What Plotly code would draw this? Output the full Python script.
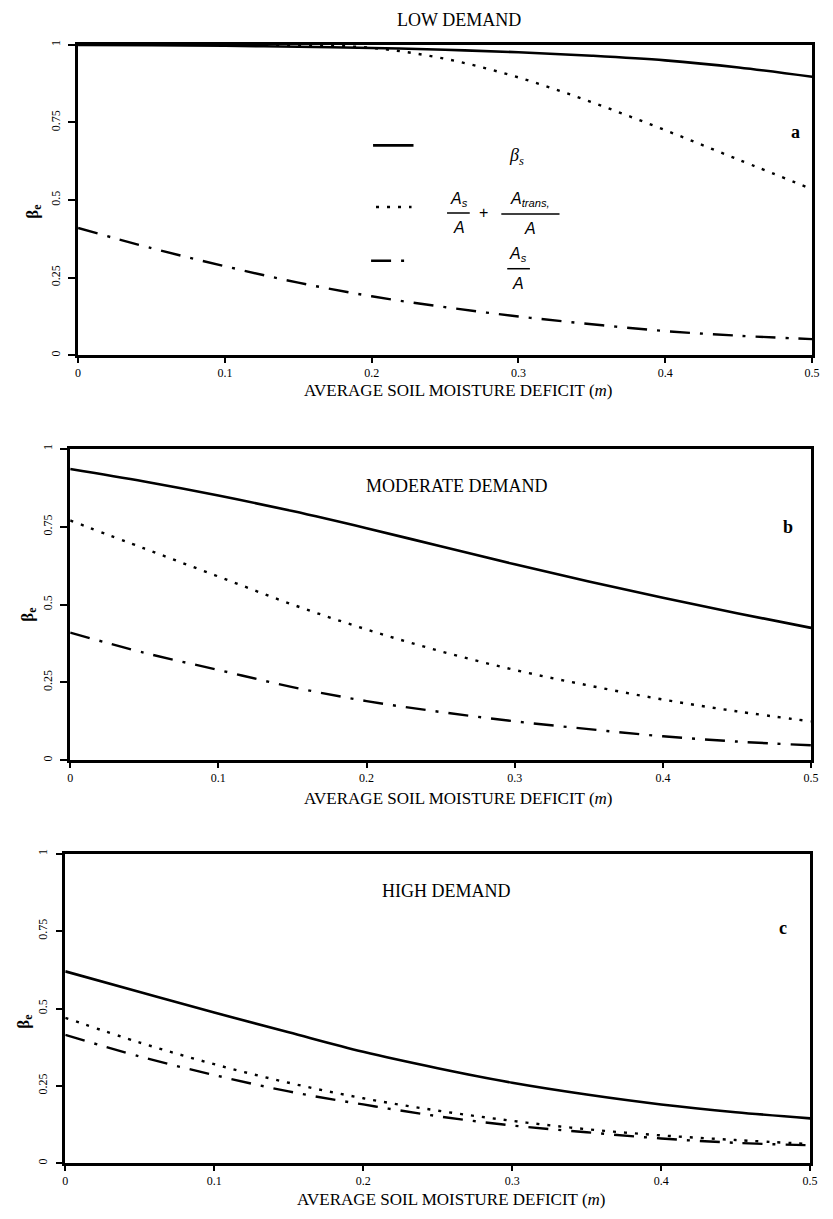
import plotly.graph_objects as go

# ---------------- data ----------------
deficit = [0.0, 0.05, 0.1, 0.15, 0.2, 0.25, 0.3, 0.35, 0.4, 0.45, 0.5]

low_beta_s = [1.0, 0.999, 0.997, 0.994, 0.99, 0.984, 0.976, 0.965, 0.95, 0.927, 0.897]
low_total = [1.0, 1.0, 1.0, 0.999, 0.99, 0.955, 0.895, 0.815, 0.725, 0.63, 0.535]
low_as = [0.41, 0.345, 0.287, 0.234, 0.19, 0.155, 0.125, 0.1, 0.078, 0.063, 0.052]

mod_beta_s = [0.935, 0.895, 0.85, 0.80, 0.745, 0.687, 0.629, 0.574, 0.522, 0.472, 0.425]
mod_total = [0.77, 0.68, 0.59, 0.50, 0.42, 0.35, 0.29, 0.24, 0.195, 0.157, 0.125]
mod_as = [0.41, 0.345, 0.29, 0.235, 0.19, 0.155, 0.125, 0.1, 0.077, 0.06, 0.048]

high_beta_s = [0.62, 0.553, 0.487, 0.423, 0.36, 0.307, 0.26, 0.222, 0.19, 0.165, 0.145]
high_total = [0.47, 0.39, 0.32, 0.26, 0.21, 0.17, 0.137, 0.11, 0.09, 0.075, 0.062]
high_as = [0.415, 0.345, 0.285, 0.232, 0.19, 0.152, 0.122, 0.1, 0.08, 0.066, 0.058]

x_ticks = [0, 0.1, 0.2, 0.3, 0.4, 0.5]
x_tick_labels = ["0", "0.1", "0.2", "0.3", "0.4", "0.5"]
y_ticks = [0, 0.25, 0.5, 0.75, 1]
y_tick_labels = ["0", "0.25", "0.5", "0.75", "1"]

panel_titles = ["LOW DEMAND", "MODERATE DEMAND", "HIGH DEMAND"]
panel_letters = ["a", "b", "c"]
x_title = "AVERAGE SOIL MOISTURE DEFICIT (<i>m</i>)"
y_title = "β<sub>e</sub>"

# ---------------- layout helpers ----------------
PAGE_W, PAGE_H = 833, 1219
OFF = 8  # default body margin of the html page
W, H = PAGE_W - 2 * OFF, PAGE_H - 2 * OFF


def px(x):
    return (x - OFF) / W


def py(y):
    return 1 - (y - OFF) / H


SERIF = "Liberation Serif"
SANS = "Liberation Sans"

panels = [
    dict(beta=low_beta_s, total=low_total, a_s=low_as,
         xdom=[px(76), px(820)], ydom=[py(352), py(40)]),
    dict(beta=mod_beta_s, total=mod_total, a_s=mod_as,
         xdom=[px(68), px(819)], ydom=[py(759), py(446)]),
    dict(beta=high_beta_s, total=high_total, a_s=high_as,
         xdom=[px(63), px(818)], ydom=[py(1164), py(853)]),
]

styles = [
    dict(dash="solid", width=2.6),
    dict(dash="3px,8px", width=2.4),
    dict(dash="20px,10px,3px,10px", width=2.4),
]

fig = go.Figure()
layout = {}
for i, p in enumerate(panels):
    sfx = "" if i == 0 else str(i + 1)
    for key, st in zip(["beta", "total", "a_s"], styles):
        fig.add_trace(go.Scatter(
            x=deficit, y=p[key], mode="lines",
            line=dict(color="black", width=st["width"], dash=st["dash"], shape="spline"),
            xaxis="x" + sfx, yaxis="y" + sfx, showlegend=False, hoverinfo="skip",
        ))
    axis_common = dict(showline=True, linecolor="black", linewidth=2.5, mirror=True,
                       showgrid=False, zeroline=False, ticks="outside",
                       tickcolor="black", tickwidth=2, ticklen=6,
                       tickfont=dict(family=SERIF, size=12, color="black"))
    layout["xaxis" + sfx] = dict(axis_common, domain=p["xdom"], range=[0, 0.5],
                                 tickvals=x_ticks, ticktext=x_tick_labels,
                                 ticklen=5, ticklabeloverflow="allow",
                                 anchor="y" + sfx)
    layout["yaxis" + sfx] = dict(axis_common, domain=p["ydom"], range=[0, 1],
                                 tickvals=y_ticks, ticktext=y_tick_labels,
                                 tickangle=-90, ticklen=7, ticklabelstandoff=4,
                                 anchor="x" + sfx)

fig.update_layout(**layout)

ann = []
# panel titles
title_pos = [(462, 15), (460, 483), (449, 890)]
for t, (x, y) in zip(panel_titles, title_pos):
    ann.append(dict(text=t, x=px(x), y=py(y), font=dict(family=SERIF, size=18, color="black")))
# panel letters
letter_pos = [(803, 128), (796, 525), (791, 928)]
for t, (x, y) in zip(panel_letters, letter_pos):
    ann.append(dict(text="<b>%s</b>" % t, x=px(x), y=py(y), font=dict(family=SERIF, size=18, color="black")))
# x titles
xt_pos = [(462, 387), (462, 797), (455, 1200)]
for (x, y) in xt_pos:
    ann.append(dict(text=x_title, x=px(x), y=py(y), font=dict(family=SERIF, size=17, color="black")))
# y titles
yt_pos = [(31, 208), (26, 613), (22, 1022)]
for (x, y) in yt_pos:
    ann.append(dict(text="<b>%s</b>" % y_title, x=px(x), y=py(y), textangle=-90,
                    font=dict(family=SERIF, size=17, color="black")))

# legend text in panel a
FR = dict(family=SANS, size=16, color="black")
ann.append(dict(text="<i>β<sub>s</sub></i>", x=px(520), y=py(152), font=dict(family=SERIF, size=18, color="black")))
ann.append(dict(text="<i>A<sub>s</sub></i>", x=px(462), y=py(195), font=FR))
ann.append(dict(text="<i>A</i>", x=px(462), y=py(224), font=FR))
ann.append(dict(text="+", x=px(487), y=py(209), font=dict(family=SANS, size=16, color="black")))
ann.append(dict(text="<i>A<sub>trans,</sub></i>", x=px(534), y=py(195), font=FR))
ann.append(dict(text="<i>A</i>", x=px(534), y=py(225), font=FR))
ann.append(dict(text="<i>A<sub>s</sub></i>", x=px(522), y=py(251), font=FR))
ann.append(dict(text="<i>A</i>", x=px(522), y=py(280), font=FR))

for a in ann:
    a.update(xref="paper", yref="paper", showarrow=False, xanchor="center", yanchor="middle")

shapes = []
# legend line samples
shapes.append(dict(type="line", x0=px(375), x1=px(416), y0=py(141), y1=py(141),
                   line=dict(color="black", width=2.6)))
shapes.append(dict(type="line", x0=px(378), x1=px(414), y0=py(203), y1=py(203),
                   line=dict(color="black", width=2.4, dash="3px,8px")))
shapes.append(dict(type="line", x0=px(373), x1=px(407), y0=py(257), y1=py(257),
                   line=dict(color="black", width=2.4, dash="20px,10px,3px,10px")))
# fraction bars
for (x0, x1, y) in [(450, 473, 209), (505, 564, 210), (511, 534, 265)]:
    shapes.append(dict(type="line", x0=px(x0), x1=px(x1), y0=py(y), y1=py(y),
                       line=dict(color="black", width=1.5)))
for s in shapes:
    s.update(xref="paper", yref="paper")

fig.update_layout(
    width=W, height=H,
    margin=dict(l=0, r=0, t=0, b=0),
    paper_bgcolor="white", plot_bgcolor="white",
    annotations=ann, shapes=shapes,
    font=dict(family=SERIF, color="black"),
)

fig.write_html("out.html")
